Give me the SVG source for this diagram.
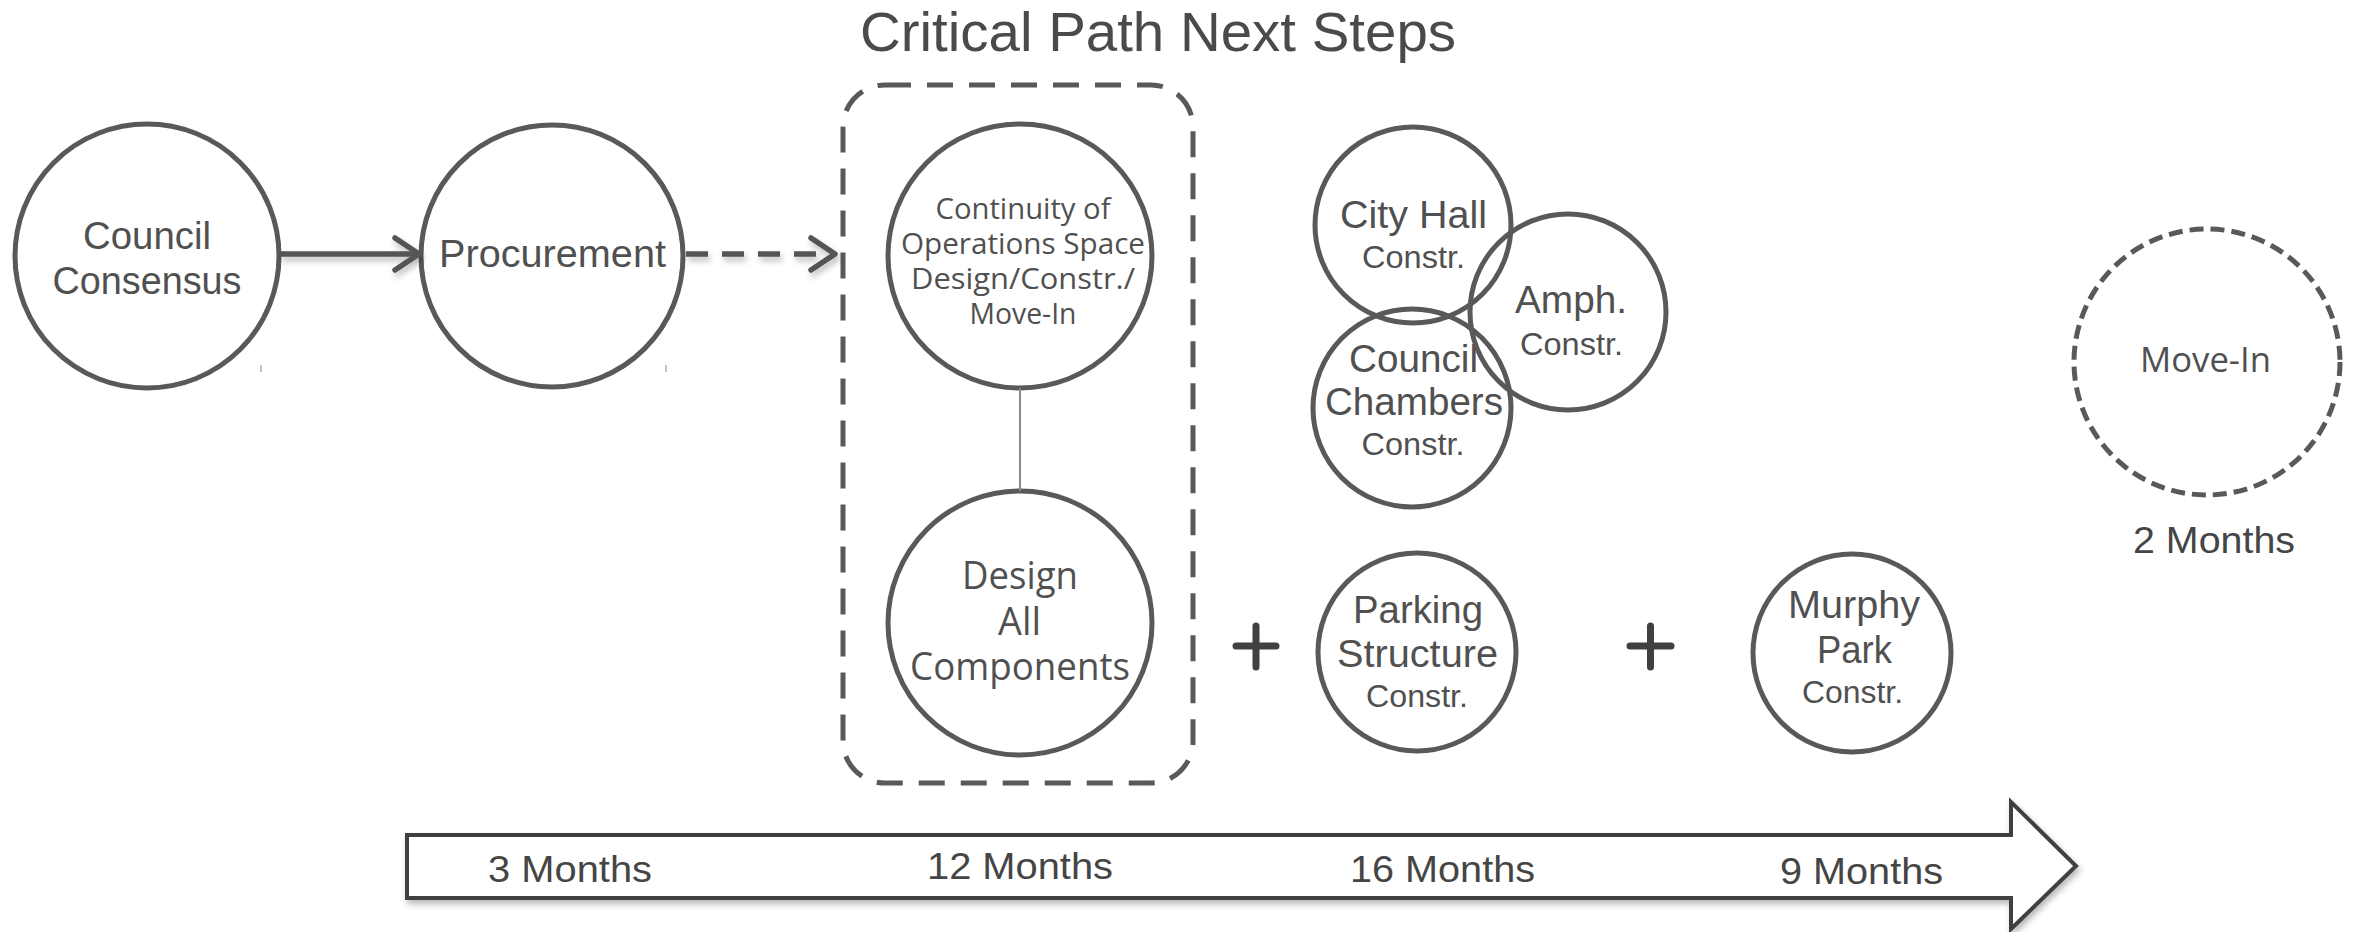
<svg xmlns="http://www.w3.org/2000/svg" width="2359" height="932" viewBox="0 0 2359 932">
<style>
.bg{fill:#ffffff}
.node{fill:#ffffff;stroke:#595959;stroke-width:5}
.ring{fill:none;stroke:#595959;stroke-width:5}
.dash-node{fill:none;stroke:#595959;stroke-width:5;stroke-dasharray:14 7}
.group-box{fill:none;stroke:#595959;stroke-width:5;stroke-dasharray:26 16}
.t{font-family:"Liberation Sans",Arial,sans-serif;fill:#505050;text-anchor:middle}
.g{font-family:"Open Sans","Liberation Sans",sans-serif;fill:#505050;text-anchor:middle}
.main{font-size:38px}
.sub{font-size:32px}
.title{font-family:"Liberation Sans",Arial,sans-serif;font-size:56px;fill:#4a4a4a;text-anchor:middle}
.months{font-family:"Liberation Sans",Arial,sans-serif;font-size:36px;fill:#454545;text-anchor:middle}
.conn{fill:none;stroke:#555555;stroke-width:5.5;stroke-linecap:butt}
.conn-dash{fill:none;stroke:#555555;stroke-width:5.5;stroke-dasharray:22 14}
.chev{fill:none;stroke:#555555;stroke-width:5.5;stroke-linecap:round;stroke-linejoin:round}
.thin{fill:none;stroke:#8a8a8a;stroke-width:2}
.plus{fill:none;stroke:#404040;stroke-width:7;stroke-linecap:round}
.tick{stroke:#9a9a9a;stroke-width:1.2}
</style>
<defs>
<filter id="shadow" x="-5%" y="-30%" width="110%" height="170%">
<feDropShadow dx="2" dy="4" stdDeviation="3" flood-color="#000000" flood-opacity="0.28"/>
</filter>
</defs>
<rect class="bg" x="0" y="0" width="2359" height="932"/>

<text id="title" class="title" x="1158" y="51" textLength="596" lengthAdjust="spacingAndGlyphs">Critical Path Next Steps</text>

<g id="council-consensus">
<circle class="node" cx="147" cy="256" r="132"/>
<text class="t main" x="147" y="249" textLength="128" lengthAdjust="spacingAndGlyphs">Council</text>
<text class="t main" x="147" y="294" textLength="189" lengthAdjust="spacingAndGlyphs">Consensus</text>
<line class="tick" x1="261" y1="365" x2="261" y2="372"/>
</g>

<g id="procurement">
<circle class="node" cx="552" cy="256" r="131"/>
<text class="t main" x="552.5" y="267" textLength="227" lengthAdjust="spacingAndGlyphs">Procurement</text>
<line class="tick" x1="666" y1="365" x2="666" y2="372"/>
</g>

<g id="phase-group">
<rect class="group-box" x="843" y="85" width="350" height="698" rx="42" ry="42"/>
</g>

<g id="continuity">
<circle class="node" cx="1020" cy="256" r="132"/>
<text class="g" font-size="29" x="1023" y="219" textLength="175" lengthAdjust="spacingAndGlyphs">Continuity of</text>
<text class="g" font-size="29" x="1023" y="254" textLength="244" lengthAdjust="spacingAndGlyphs">Operations Space</text>
<text class="g" font-size="29" x="1023" y="289" textLength="224" lengthAdjust="spacingAndGlyphs">Design/Constr./</text>
<text class="g" font-size="29" x="1023" y="324" textLength="107" lengthAdjust="spacingAndGlyphs">Move-In</text>
</g>

<g id="design-all">
<circle class="node" cx="1020" cy="623" r="132"/>
<text class="g" font-size="38" x="1020" y="589" textLength="116" lengthAdjust="spacingAndGlyphs">Design</text>
<text class="g" font-size="38" x="1019.5" y="635" textLength="43" lengthAdjust="spacingAndGlyphs">All</text>
<text class="g" font-size="38" x="1020" y="680" textLength="220" lengthAdjust="spacingAndGlyphs">Components</text>
</g>

<g id="city-hall">
<circle class="ring" cx="1413" cy="225" r="98"/>
<text class="t main" x="1413.5" y="228" textLength="147" lengthAdjust="spacingAndGlyphs">City Hall</text>
<text class="t sub" x="1413.5" y="268" textLength="103" lengthAdjust="spacingAndGlyphs">Constr.</text>
</g>

<g id="council-chambers">
<circle class="ring" cx="1412" cy="408" r="99"/>
<text class="t main" x="1413.5" y="372" textLength="129" lengthAdjust="spacingAndGlyphs">Council</text>
<text class="t main" x="1414" y="415" textLength="178" lengthAdjust="spacingAndGlyphs">Chambers</text>
<text class="t sub" x="1413" y="455" textLength="103" lengthAdjust="spacingAndGlyphs">Constr.</text>
</g>

<g id="amph">
<circle class="ring" cx="1568" cy="312" r="98"/>
<text class="t main" x="1571" y="313" textLength="112" lengthAdjust="spacingAndGlyphs">Amph.</text>
<text class="t sub" x="1571.5" y="355" textLength="103" lengthAdjust="spacingAndGlyphs">Constr.</text>
</g>

<g id="plus-1">
<path class="plus" d="M1236 646 H1276 M1256 626 V667"/>
</g>

<g id="parking">
<circle class="node" cx="1417" cy="652" r="99"/>
<text class="t main" x="1418" y="623" textLength="130" lengthAdjust="spacingAndGlyphs">Parking</text>
<text class="t main" x="1417.5" y="667" textLength="161" lengthAdjust="spacingAndGlyphs">Structure</text>
<text class="t sub" x="1417" y="707" textLength="102" lengthAdjust="spacingAndGlyphs">Constr.</text>
</g>

<g id="plus-2">
<path class="plus" d="M1630 646 H1671 M1650.5 626 V667"/>
</g>

<g id="murphy-park">
<circle class="node" cx="1852" cy="653" r="99"/>
<text class="t main" x="1854" y="618" textLength="132" lengthAdjust="spacingAndGlyphs">Murphy</text>
<text class="t main" x="1854.5" y="663" textLength="75" lengthAdjust="spacingAndGlyphs">Park</text>
<text class="t sub" x="1852.5" y="703" textLength="101" lengthAdjust="spacingAndGlyphs">Constr.</text>
</g>

<g id="move-in">
<circle class="dash-node" cx="2207" cy="362" r="133"/>
<text class="g" font-size="35" x="2205.5" y="372" textLength="131" lengthAdjust="spacingAndGlyphs">Move-In</text>
<text class="months" x="2214" y="553" textLength="162" lengthAdjust="spacingAndGlyphs">2 Months</text>
</g>

<g id="connectors">
<g filter="url(#shadow)">
<line class="conn" x1="280" y1="254" x2="416" y2="254"/>
<polyline class="chev" points="395,238 419,254 395,270"/>
</g>
<g filter="url(#shadow)">
<line class="conn-dash" x1="686" y1="254" x2="830" y2="254"/>
<polyline class="chev" points="811,238 835,254 811,270"/>
</g>
<line class="thin" x1="1020" y1="388" x2="1020" y2="491"/>
</g>

<g id="timeline">
<polygon points="407,835 2011,835 2011,802 2076,866 2011,929 2011,898 407,898" fill="#ffffff" stroke="#404040" stroke-width="4" stroke-linejoin="miter" filter="url(#shadow)"/>
<text class="months" x="570" y="882" textLength="164" lengthAdjust="spacingAndGlyphs">3 Months</text>
<text class="months" x="1020" y="879" textLength="186" lengthAdjust="spacingAndGlyphs">12 Months</text>
<text class="months" x="1442.5" y="882" textLength="185" lengthAdjust="spacingAndGlyphs">16 Months</text>
<text class="months" x="1861.5" y="884" textLength="163" lengthAdjust="spacingAndGlyphs">9 Months</text>
</g>
</svg>
